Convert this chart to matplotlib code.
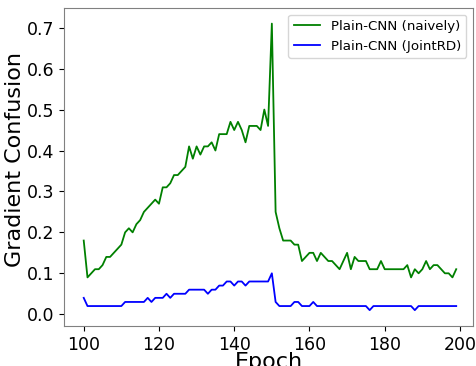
import matplotlib
matplotlib.use('Agg')
import matplotlib.pyplot as plt
import numpy as np

epochs = np.arange(100, 200)

naively = [0.18, 0.09, 0.10, 0.11, 0.11, 0.12, 0.14, 0.14, 0.15, 0.16,
           0.17, 0.20, 0.21, 0.20, 0.22, 0.23, 0.25, 0.26, 0.27, 0.28,
           0.27, 0.31, 0.31, 0.32, 0.34, 0.34, 0.35, 0.36, 0.41, 0.38,
           0.41, 0.39, 0.41, 0.41, 0.42, 0.40, 0.44, 0.44, 0.44, 0.47,
           0.45, 0.47, 0.45, 0.42, 0.46, 0.46, 0.46, 0.45, 0.50, 0.46,
           0.71, 0.25, 0.21, 0.18, 0.18, 0.18, 0.17, 0.17, 0.13, 0.14,
           0.15, 0.15, 0.13, 0.15, 0.14, 0.13, 0.13, 0.12, 0.11, 0.13,
           0.15, 0.11, 0.14, 0.13, 0.13, 0.13, 0.11, 0.11, 0.11, 0.13,
           0.11, 0.11, 0.11, 0.11, 0.11, 0.11, 0.12, 0.09, 0.11, 0.10,
           0.11, 0.13, 0.11, 0.12, 0.12, 0.11, 0.10, 0.10, 0.09, 0.11]

jointrd = [0.04, 0.02, 0.02, 0.02, 0.02, 0.02, 0.02, 0.02, 0.02, 0.02,
           0.02, 0.03, 0.03, 0.03, 0.03, 0.03, 0.03, 0.04, 0.03, 0.04,
           0.04, 0.04, 0.05, 0.04, 0.05, 0.05, 0.05, 0.05, 0.06, 0.06,
           0.06, 0.06, 0.06, 0.05, 0.06, 0.06, 0.07, 0.07, 0.08, 0.08,
           0.07, 0.08, 0.08, 0.07, 0.08, 0.08, 0.08, 0.08, 0.08, 0.08,
           0.10, 0.03, 0.02, 0.02, 0.02, 0.02, 0.03, 0.03, 0.02, 0.02,
           0.02, 0.03, 0.02, 0.02, 0.02, 0.02, 0.02, 0.02, 0.02, 0.02,
           0.02, 0.02, 0.02, 0.02, 0.02, 0.02, 0.01, 0.02, 0.02, 0.02,
           0.02, 0.02, 0.02, 0.02, 0.02, 0.02, 0.02, 0.02, 0.01, 0.02,
           0.02, 0.02, 0.02, 0.02, 0.02, 0.02, 0.02, 0.02, 0.02, 0.02]

fig = plt.figure(figsize=(4.76, 3.66), dpi=100)
ax = fig.add_axes([0.134, 0.109, 0.860, 0.869])

ax.plot(epochs, naively, color='green', lw=1.3, label='Plain-CNN (naively)')
ax.plot(epochs, jointrd, color='blue', lw=1.3, label='Plain-CNN (JointRD)')

ax.set_xlim(94.7, 203.5)
ax.set_ylim(-0.029, 0.748)
ax.set_xticks([100, 120, 140, 160, 180, 200])
ax.set_yticks([0.0, 0.1, 0.2, 0.3, 0.4, 0.5, 0.6, 0.7])
ax.tick_params(labelsize=12.5)
for s in ax.spines.values():
    s.set_color('#808080')

ax.set_xlabel('Epoch', fontsize=16, labelpad=-1)
ax.set_ylabel('Gradient Confusion', fontsize=16, va='center')
ax.yaxis.set_label_coords(-0.12, 0.525)
ax.legend(loc='upper right', fontsize=9.6)

fig.savefig('out.png', dpi=100)
